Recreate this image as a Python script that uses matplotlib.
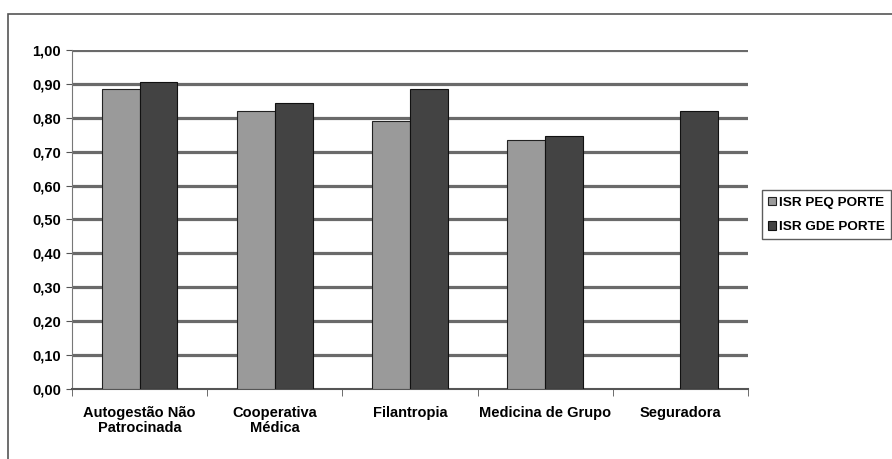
import numpy as np
import matplotlib.pyplot as plt
from matplotlib.patches import Rectangle

plt.rcParams['font.family'] = ['Liberation Sans', 'DejaVu Sans']
plt.rcParams['font.weight'] = 'bold'

categories = ['Autogestão Não\nPatrocinada', 'Cooperativa\nMédica', 'Filantropia',
              'Medicina de Grupo', 'Seguradora']
isr_peq = [0.885, 0.82, 0.79, 0.735, np.nan]
isr_gde = [0.905, 0.845, 0.885, 0.745, 0.82]
y_ticks = np.arange(0, 1.01, 0.1)

fig = plt.figure(figsize=(8.92, 4.59), dpi=100)
ax = fig.add_axes([0.0807, 0.1525, 0.7578, 0.7386])

# outer chart frame (only top and left edges visible)
fig.patches.append(Rectangle((0.0095, -0.1), 1.2, 0.1 + 0.969, transform=fig.transFigure,
                             fill=False, edgecolor='#555555', linewidth=1.2))

x = np.arange(len(categories))
w = 0.28
ax.bar(x - w / 2, isr_peq, w, color='#9a9a9a', edgecolor='#222222', linewidth=0.8,
       label='ISR PEQ PORTE', zorder=3)
ax.bar(x + w / 2, isr_gde, w, color='#434343', edgecolor='#111111', linewidth=0.8,
       label='ISR GDE PORTE', zorder=3)

ax.set_xlim(-0.5, len(categories) - 0.5)
ax.set_ylim(0, 1.0)
ax.set_yticks(y_ticks)
ax.set_yticklabels([f'{v:.2f}'.replace('.', ',') for v in y_ticks], fontsize=10.5)
ax.set_xticks(x)
ax.set_xticklabels(categories, fontsize=10.5, linespacing=1.15)
ax.tick_params(axis='x', which='major', length=0, pad=12)
ax.set_xticks(np.arange(-0.5, len(categories)), minor=True)
ax.tick_params(axis='x', which='minor', length=5, color='#555555')
ax.tick_params(axis='y', length=4, color='#555555', pad=4)

for v in y_ticks[1:]:
    ax.axhline(v, color='#6a6a6a', linewidth=2.3, zorder=1)

for side in ['top', 'right']:
    ax.spines[side].set_visible(False)
ax.spines['left'].set_color('#777777')
ax.spines['bottom'].set_color('#555555')
ax.spines['bottom'].set_linewidth(1.5)

leg = fig.legend(loc='upper left', bbox_to_anchor=(0.854, 0.585), frameon=True,
                 fancybox=False, edgecolor='#333333', fontsize=9.7,
                 handlelength=0.6, handleheight=0.6, handletextpad=0.25,
                 borderpad=0.45, labelspacing=0.95, borderaxespad=0)
leg.get_frame().set_linewidth(1.0)

fig.savefig('out.png', dpi=100)
